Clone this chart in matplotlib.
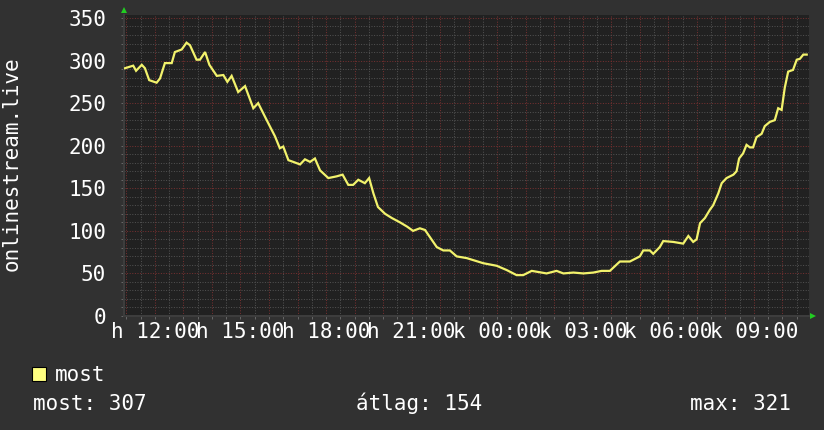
import matplotlib.pyplot as plt
from matplotlib.patches import Rectangle
from matplotlib.ticker import MultipleLocator

# hours since midnight of the first day (24 = next midnight)
hours = [10.95, 11.24, 11.34, 11.54, 11.65, 11.80, 12.06, 12.18, 12.35, 12.59,
         12.70, 12.94, 13.11, 13.23, 13.46, 13.58, 13.76, 13.91, 14.17, 14.40,
         14.54, 14.69, 14.92, 15.16, 15.45, 15.62, 15.92, 16.21, 16.38, 16.50,
         16.68, 16.85, 17.09, 17.26, 17.44, 17.61, 17.79, 18.08, 18.37, 18.58,
         18.78, 18.95, 19.13, 19.36, 19.51, 19.66, 19.82, 20.07, 20.31, 20.59,
         20.84, 21.05, 21.29, 21.47, 21.88, 22.11, 22.34, 22.58, 22.93, 23.51,
         23.98, 24.33, 24.68, 24.91, 25.21, 25.73, 26.08, 26.32, 26.67, 27.02,
         27.37, 27.66, 27.95, 28.30, 28.65, 29.00, 29.12, 29.35, 29.47, 29.70,
         29.82, 30.17, 30.52, 30.70, 30.87, 30.99, 31.11, 31.28, 31.46, 31.57,
         31.75, 31.87, 32.04, 32.28, 32.39, 32.48, 32.62, 32.74, 32.86, 32.97,
         33.09, 33.27, 33.38, 33.56, 33.73, 33.85, 33.97, 34.08, 34.20, 34.37,
         34.50, 34.61, 34.73, 34.85]
viewers = [291, 294, 288, 295, 291, 277, 274, 279, 297, 297,
           310, 313, 321, 318, 301, 301, 310, 295, 282, 283,
           275, 282, 263, 270, 244, 250, 230, 211, 197, 199,
           183, 181, 178, 184, 181, 185, 171, 162, 164, 166,
           154, 154, 160, 156, 162, 144, 128, 120, 115, 110,
           105, 100, 103, 101, 81, 77, 77, 70, 68, 62,
           59, 54, 48, 48, 53, 50, 53, 50, 51, 50,
           51, 53, 53, 64, 64, 70, 77, 77, 73, 81,
           88, 87, 85, 94, 87, 90, 109, 115, 125, 130,
           144, 156, 162, 166, 170, 185, 191, 201, 198, 198,
           210, 214, 223, 228, 230, 244, 242, 268, 287, 289,
           301, 302, 307, 307]

label_hours = [12, 15, 18, 21, 24, 27, 30, 33]
label_texts = ['h 12:00', 'h 15:00', 'h 18:00', 'h 21:00',
               'k 00:00', 'k 03:00', 'k 06:00', 'k 09:00']
y_ticks = [0, 50, 100, 150, 200, 250, 300, 350]

series_name = 'most'
stat_now = 307
stat_avg = 154
stat_max = 321

BG = '#313131'
PLOT_BG = '#212121'
FONT = 'DejaVu Sans Mono'
FS = 15

fig = plt.figure(figsize=(8.24, 4.30), dpi=100, facecolor=BG)
ax = fig.add_axes([124 / 824, 114 / 430, 685 / 824, 301 / 430])
ax.set_facecolor(PLOT_BG)

ax.set_xlim(10.917, 34.93)
ax.set_ylim(0, 353.5)

# grid: minor gray, major red, both dotted
ax.xaxis.set_minor_locator(MultipleLocator(0.5))
ax.yaxis.set_minor_locator(MultipleLocator(10))
dots = (0, (1, 1.6))
for v in [h / 2 for h in range(22, 70)]:
    col = '#763030' if v == int(v) else '#515151'
    ax.axvline(v, color=col, lw=0.72, ls=dots, zorder=1)
for v in range(10, 360, 10):
    col = '#763030' if v % 50 == 0 else '#515151'
    ax.axhline(v, color=col, lw=0.72, ls=dots, zorder=1)

ax.plot(hours, viewers, color='#f2f26c', lw=1.6, zorder=3,
        solid_joinstyle='miter')

ax.set_xticks(label_hours)
ax.set_xticklabels(label_texts)
ax.set_yticks(y_ticks)
ax.tick_params(axis='both', which='both', colors='#666666', length=2,
               width=0.72)
ax.tick_params(axis='x', which='major', pad=2.0, labelcolor='white',
               labelsize=FS)
ax.tick_params(axis='y', which='major', pad=10.8, labelcolor='white',
               labelsize=FS)
for lab in ax.get_xticklabels() + ax.get_yticklabels():
    lab.set_family(FONT)

for side in ['top', 'right']:
    ax.spines[side].set_visible(False)
for side in ['left', 'bottom']:
    ax.spines[side].set_color('#3e3e3e')
    ax.spines[side].set_linewidth(1.4)

# green arrow heads at the ends of the axes
ax.plot([0], [1.017], marker='^', color='#22cc22', ms=5, mew=0,
        transform=ax.transAxes, clip_on=False)
ax.plot([1.006], [0], marker='>', color='#22cc22', ms=5, mew=0,
        transform=ax.transAxes, clip_on=False)

fig.text(12 / 824, 1 - 164 / 430, 'onlinestream.live', rotation=90,
         ha='center', va='center', color='white', family=FONT, fontsize=FS)

# legend block
fig.patches.append(Rectangle((32 / 824, 1 - 381 / 430), 14 / 824, 14 / 430,
                             transform=fig.transFigure, facecolor='#ffff80',
                             edgecolor='black', lw=0.8))
fig.text(55 / 824, 1 - 381 / 430, series_name, ha='left', va='baseline',
         color='white', family=FONT, fontsize=FS)
fig.text(33 / 824, 1 - 410 / 430, f'most: {stat_now}', ha='left',
         va='baseline', color='white', family=FONT, fontsize=FS)
fig.text(419 / 824, 1 - 410 / 430, f'átlag: {stat_avg}', ha='center',
         va='baseline', color='white', family=FONT, fontsize=FS)
fig.text(791 / 824, 1 - 410 / 430, f'max: {stat_max}', ha='right',
         va='baseline', color='white', family=FONT, fontsize=FS)

fig.savefig('out.png', dpi=100, facecolor=BG)
